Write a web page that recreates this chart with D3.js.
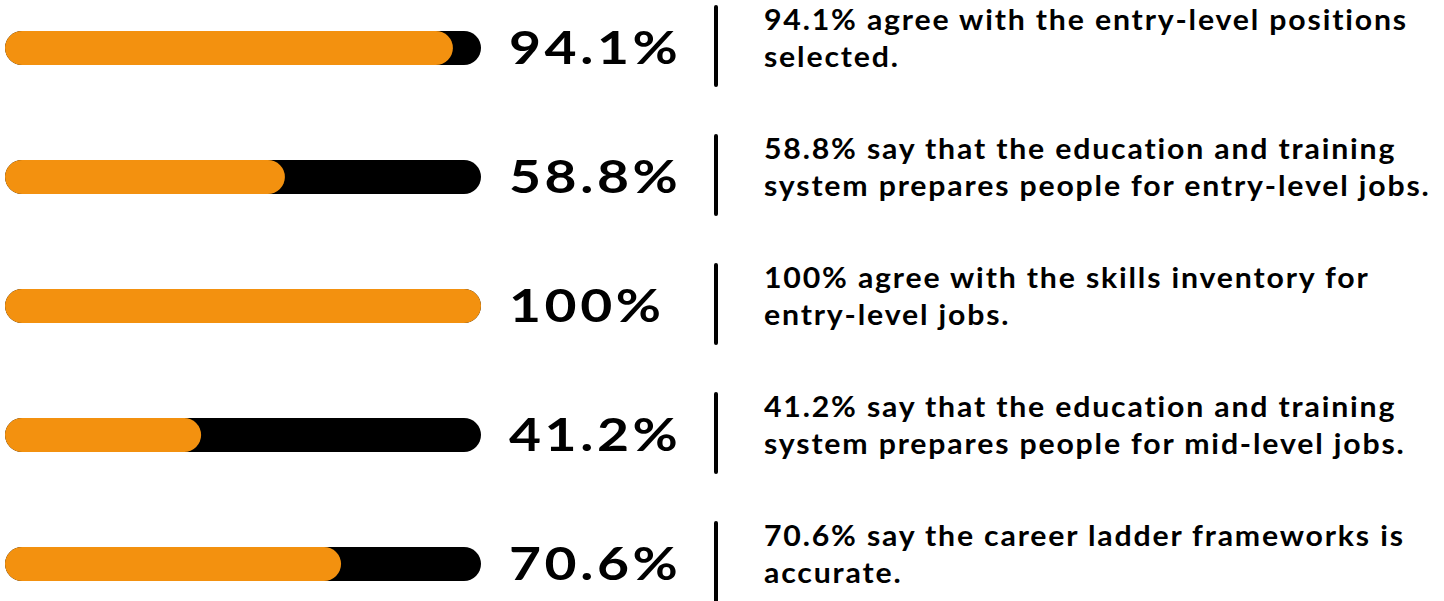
<!DOCTYPE html>
<html>
<head>
<meta charset="utf-8">
<script src="https://cdn.jsdelivr.net/npm/d3@7"></script>
<style>
  body { margin: 0; background: #fff; }
  svg { display: block; }
</style>
</head>
<body>
<script>
// survey results, one row each
const values = [94.1, 58.8, 100, 41.2, 70.6];
const labels = ["94.1%", "58.8%", "100%", "41.2%", "70.6%"];
const descriptions = [
  ["94.1% agree with the entry-level positions", "selected."],
  ["58.8% say that the education and training", "system prepares people for entry-level jobs."],
  ["100% agree with the skills inventory for", "entry-level jobs."],
  ["41.2% say that the education and training", "system prepares people for mid-level jobs."],
  ["70.6% say the career ladder frameworks is", "accurate."]
];

var width = 1444,
    height = 601;

var orange = "#f3910f";

var svg = d3.select("body").append("svg")
    .attr("width", width)
    .attr("height", height);

var x = d3.scaleLinear()
    .domain([0, 100])
    .range([5, 481]);

var y = d3.scalePoint()
    .domain(d3.range(values.length))
    .range([48, 564]);

var barH = 34;

var rows = svg.selectAll(".row")
    .data(values)
  .enter().append("g")
    .attr("class", "row")
    .attr("transform", function(d, i) { return "translate(0," + y(i) + ")"; });

// black track
rows.append("rect")
    .attr("x", x(0))
    .attr("y", -barH / 2)
    .attr("width", x(100) - x(0))
    .attr("height", barH)
    .attr("rx", barH / 2)
    .attr("fill", "#000");

// orange fill
rows.append("rect")
    .attr("x", x(0))
    .attr("y", -barH / 2)
    .attr("width", function(d) { return x(d) - x(0); })
    .attr("height", barH)
    .attr("rx", barH / 2)
    .attr("fill", orange);

// big percentage (stretched a bit, the original face is wider)
rows.append("text")
    .attr("transform", "translate(509,16) scale(1.2,1)")
    .attr("font-family", "Lato, sans-serif")
    .attr("font-weight", 700)
    .attr("font-size", 46)
    .attr("letter-spacing", 3)
    .attr("fill", "#000")
    .text(function(d, i) { return labels[i]; });

// divider
rows.append("line")
    .attr("x1", 716).attr("x2", 716)
    .attr("y1", -41).attr("y2", 37)
    .attr("stroke", "#000")
    .attr("stroke-width", 4)
    .attr("stroke-linecap", "round");

// description, two lines
var desc = rows.append("text")
    .attr("transform", "translate(764,-18) scale(1.08,1)")
    .attr("font-family", "Lato, sans-serif")
    .attr("font-weight", 700)
    .attr("font-size", 28)
    .attr("letter-spacing", 1.7)
    .attr("fill", "#000");

desc.selectAll("tspan")
    .data(function(d, i) { return descriptions[i]; })
  .enter().append("tspan")
    .attr("x", 0)
    .attr("dy", function(d, j) { return j === 0 ? 0 : 37; })
    .text(function(d) { return d; });
</script>
</body>
</html>
